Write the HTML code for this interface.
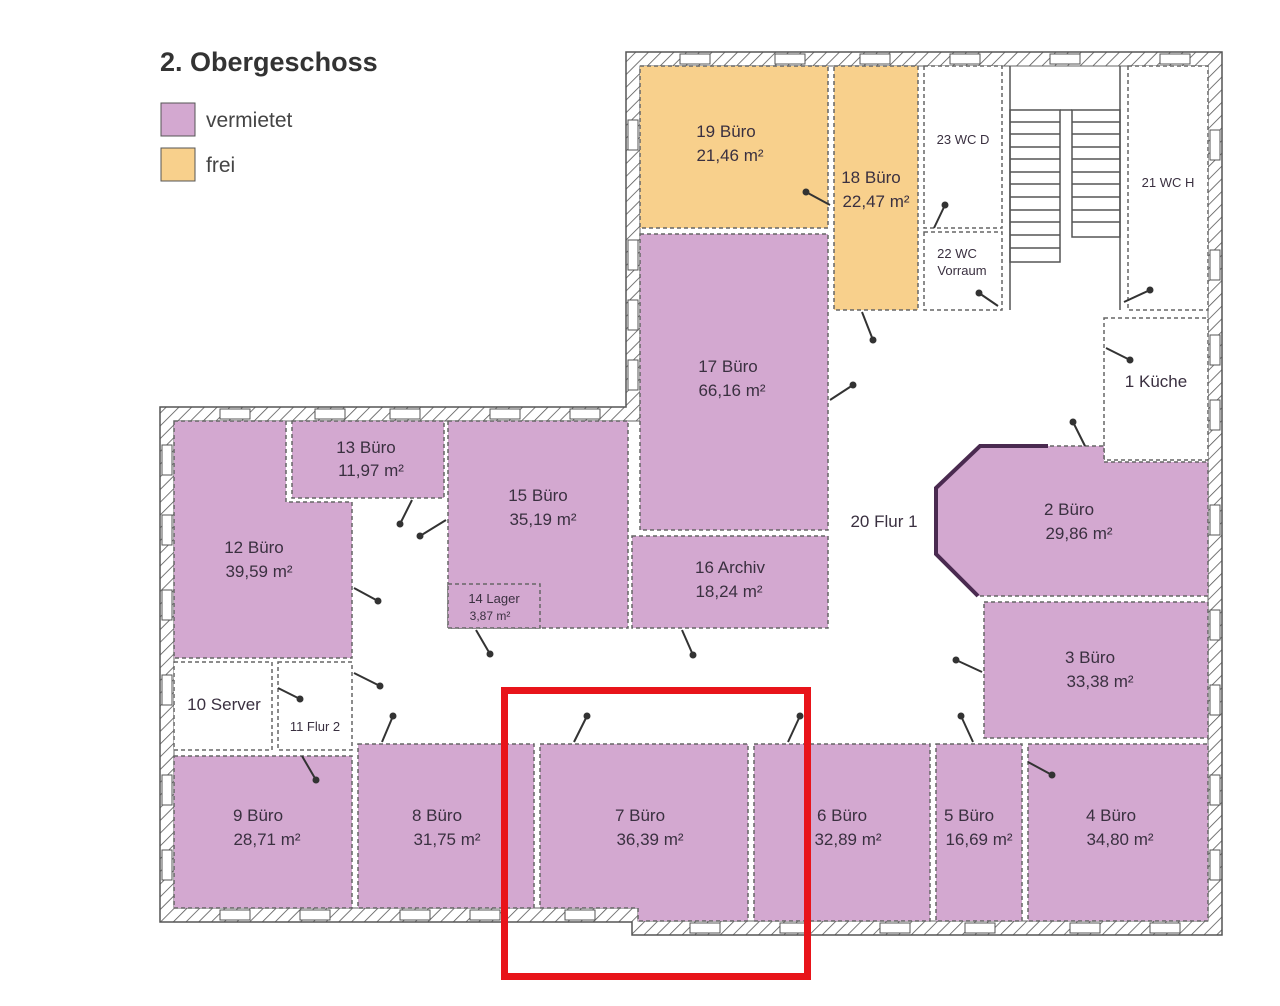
<!DOCTYPE html>
<html><head><meta charset="utf-8"><style>
html,body{margin:0;padding:0;background:#fff;}
svg{display:block;font-family:"Liberation Sans",sans-serif;}
text{fill:#3a3040;}
</style></head><body>
<svg width="1280" height="1006" viewBox="0 0 1280 1006" xmlns="http://www.w3.org/2000/svg">
<defs>
<pattern id="h" width="9" height="9" patternUnits="userSpaceOnUse" patternTransform="rotate(45)">
<rect width="9" height="9" fill="#fff"/><line x1="0" y1="0" x2="0" y2="9" stroke="#555" stroke-width="1.6"/>
</pattern>
</defs>
<text x="160" y="71" font-size="27" font-weight="bold" style="fill:#333">2. Obergeschoss</text>
<rect x="161" y="103" width="34" height="33" fill="#d3a8d0" stroke="#555"/>
<text x="206" y="127" font-size="21" style="fill:#444">vermietet</text>
<rect x="161" y="148" width="34" height="33" fill="#f8d08c" stroke="#555"/>
<text x="206" y="172" font-size="21" style="fill:#444">frei</text>

<path d="M626,52 H1222 V935 H632 V922 H160 V407 H626 Z" fill="url(#h)" stroke="#555" stroke-width="1.5"/>
<path d="M640,66 H1208 V921 H638 V908 H174 V421 H640 Z" fill="#fff" stroke="#666" stroke-width="1"/>

<g stroke="#666" stroke-width="1.5" stroke-dasharray="4 3">
<rect x="640" y="66" width="188" height="162" fill="#f8d08c"/>
<rect x="834" y="66" width="84" height="244" fill="#f8d08c"/>
<rect x="924" y="66" width="78" height="162" fill="#fff"/>
<rect x="924" y="232" width="78" height="78" fill="#fff"/>
<rect x="1128" y="66" width="80" height="244" fill="#fff"/>
<rect x="640" y="234" width="188" height="296" fill="#d3a8d0"/>
<rect x="632" y="536" width="196" height="92" fill="#d3a8d0"/>
<rect x="448" y="421" width="180" height="207" fill="#d3a8d0"/>
<rect x="448" y="584" width="92" height="44" fill="#d3a8d0"/>
<rect x="292" y="421" width="152" height="77" fill="#d3a8d0"/>
<path d="M174,421 H286 V502 H352 V658 H174 Z" fill="#d3a8d0"/>
<rect x="174" y="662" width="98" height="88" fill="#fff"/>
<rect x="278" y="662" width="74" height="88" fill="#fff"/>
<rect x="174" y="756" width="178" height="152" fill="#d3a8d0"/>
<rect x="358" y="744" width="176" height="164" fill="#d3a8d0"/>
<path d="M540,744 H748 V921 H638 V908 H540 Z" fill="#d3a8d0"/>
<rect x="754" y="744" width="176" height="177" fill="#d3a8d0"/>
<rect x="936" y="744" width="86" height="177" fill="#d3a8d0"/>
<rect x="1028" y="744" width="180" height="177" fill="#d3a8d0"/>
<rect x="984" y="602" width="224" height="136" fill="#d3a8d0"/>
<rect x="1104" y="318" width="104" height="142" fill="#fff"/>
<path d="M980,446 H1104 V462 H1208 V596 H978 L936,554 V488 Z" fill="#d3a8d0"/>
</g>
<path d="M1048,446 H980 L936,488 V554 L978,596" fill="none" stroke="#4a2a50" stroke-width="4"/>

<g stroke="#555" stroke-width="1.5" fill="none">
<rect x="1010" y="110" width="50" height="152"/>
<rect x="1072" y="110" width="48" height="127"/>
<line x1="1060" y1="110" x2="1072" y2="110"/>
<path d="M1010,122H1060M1010,134H1060M1010,147H1060M1010,159H1060M1010,172H1060M1010,184H1060M1010,197H1060M1010,210H1060M1010,222H1060M1010,235H1060M1010,248H1060"/>
<path d="M1072,122H1120M1072,134H1120M1072,147H1120M1072,159H1120M1072,172H1120M1072,184H1120M1072,197H1120M1072,210H1120M1072,222H1120"/>
<line x1="1010" y1="66" x2="1010" y2="310"/><line x1="1120" y1="66" x2="1120" y2="310"/>
</g>

<g fill="#fff" stroke="#555" stroke-width="1">
<rect x="680" y="54" width="30" height="10"/><rect x="775" y="54" width="30" height="10"/><rect x="860" y="54" width="30" height="10"/><rect x="950" y="54" width="30" height="10"/><rect x="1050" y="54" width="30" height="10"/><rect x="1160" y="54" width="30" height="10"/>
<rect x="628" y="120" width="10" height="30"/><rect x="628" y="240" width="10" height="30"/><rect x="628" y="300" width="10" height="30"/><rect x="628" y="360" width="10" height="30"/>
<rect x="220" y="409" width="30" height="10"/><rect x="315" y="409" width="30" height="10"/><rect x="390" y="409" width="30" height="10"/><rect x="490" y="409" width="30" height="10"/><rect x="570" y="409" width="30" height="10"/>
<rect x="162" y="445" width="10" height="30"/><rect x="162" y="515" width="10" height="30"/><rect x="162" y="590" width="10" height="30"/><rect x="162" y="675" width="10" height="30"/><rect x="162" y="775" width="10" height="30"/><rect x="162" y="850" width="10" height="30"/>
<rect x="220" y="910" width="30" height="10"/><rect x="300" y="910" width="30" height="10"/><rect x="400" y="910" width="30" height="10"/><rect x="470" y="910" width="30" height="10"/><rect x="565" y="910" width="30" height="10"/>
<rect x="690" y="923" width="30" height="10"/><rect x="780" y="923" width="30" height="10"/><rect x="880" y="923" width="30" height="10"/><rect x="965" y="923" width="30" height="10"/><rect x="1070" y="923" width="30" height="10"/><rect x="1150" y="923" width="30" height="10"/>
<rect x="1210" y="130" width="10" height="30"/><rect x="1210" y="250" width="10" height="30"/><rect x="1210" y="335" width="10" height="30"/><rect x="1210" y="400" width="10" height="30"/><rect x="1210" y="505" width="10" height="30"/><rect x="1210" y="610" width="10" height="30"/><rect x="1210" y="685" width="10" height="30"/><rect x="1210" y="775" width="10" height="30"/><rect x="1210" y="850" width="10" height="30"/>
</g>

<g stroke="#333" stroke-width="2" fill="#333">
<line x1="830" y1="205" x2="806" y2="192"/><circle cx="806" cy="192" r="2.5"/>
<line x1="934" y1="228" x2="945" y2="205"/><circle cx="945" cy="205" r="2.5"/>
<line x1="998" y1="306" x2="979" y2="293"/><circle cx="979" cy="293" r="2.5"/>
<line x1="1124" y1="302" x2="1150" y2="290"/><circle cx="1150" cy="290" r="2.5"/>
<line x1="862" y1="312" x2="873" y2="340"/><circle cx="873" cy="340" r="2.5"/>
<line x1="830" y1="400" x2="853" y2="385"/><circle cx="853" cy="385" r="2.5"/>
<line x1="1106" y1="348" x2="1130" y2="360"/><circle cx="1130" cy="360" r="2.5"/>
<line x1="1085" y1="446" x2="1073" y2="422"/><circle cx="1073" cy="422" r="2.5"/>
<line x1="412" y1="500" x2="400" y2="524"/><circle cx="400" cy="524" r="2.5"/>
<line x1="446" y1="520" x2="420" y2="536"/><circle cx="420" cy="536" r="2.5"/>
<line x1="354" y1="588" x2="378" y2="601"/><circle cx="378" cy="601" r="2.5"/>
<line x1="476" y1="630" x2="490" y2="654"/><circle cx="490" cy="654" r="2.5"/>
<line x1="682" y1="630" x2="693" y2="655"/><circle cx="693" cy="655" r="2.5"/>
<line x1="354" y1="673" x2="380" y2="686"/><circle cx="380" cy="686" r="2.5"/>
<line x1="278" y1="688" x2="300" y2="699"/><circle cx="300" cy="699" r="2.5"/>
<line x1="382" y1="742" x2="393" y2="716"/><circle cx="393" cy="716" r="2.5"/>
<line x1="302" y1="756" x2="316" y2="780"/><circle cx="316" cy="780" r="2.5"/>
<line x1="574" y1="742" x2="587" y2="716"/><circle cx="587" cy="716" r="2.5"/>
<line x1="788" y1="742" x2="800" y2="716"/><circle cx="800" cy="716" r="2.5"/>
<line x1="973" y1="742" x2="961" y2="716"/><circle cx="961" cy="716" r="2.5"/>
<line x1="982" y1="672" x2="956" y2="660"/><circle cx="956" cy="660" r="2.5"/>
<line x1="1028" y1="762" x2="1052" y2="775"/><circle cx="1052" cy="775" r="2.5"/>
</g>

<g font-size="17" text-anchor="middle">
<text x="726" y="137">19 Büro</text><text x="730" y="161">21,46 m²</text>
<text x="871" y="183">18 Büro</text><text x="876" y="207">22,47 m²</text>
<text x="963" y="144" font-size="13">23 WC D</text>
<text x="957" y="258" font-size="13">22 WC</text><text x="962" y="275" font-size="13">Vorraum</text>
<text x="1168" y="187" font-size="13">21 WC H</text>
<text x="728" y="372">17 Büro</text><text x="732" y="396">66,16 m²</text>
<text x="1156" y="387">1 Küche</text>
<text x="366" y="453">13 Büro</text><text x="371" y="476">11,97 m²</text>
<text x="538" y="501">15 Büro</text><text x="543" y="525">35,19 m²</text>
<text x="884" y="527">20 Flur 1</text>
<text x="1069" y="515">2 Büro</text><text x="1079" y="539">29,86 m²</text>
<text x="254" y="553">12 Büro</text><text x="259" y="577">39,59 m²</text>
<text x="730" y="573">16 Archiv</text><text x="729" y="597">18,24 m²</text>
<text x="494" y="603" font-size="13">14 Lager</text><text x="490" y="620" font-size="12">3,87 m²</text>
<text x="1090" y="663">3 Büro</text><text x="1100" y="687">33,38 m²</text>
<text x="224" y="710">10 Server</text>
<text x="315" y="731" font-size="13">11 Flur 2</text>
<text x="258" y="821">9 Büro</text><text x="267" y="845">28,71 m²</text>
<text x="437" y="821">8 Büro</text><text x="447" y="845">31,75 m²</text>
<text x="640" y="821">7 Büro</text><text x="650" y="845">36,39 m²</text>
<text x="842" y="821">6 Büro</text><text x="848" y="845">32,89 m²</text>
<text x="969" y="821">5 Büro</text><text x="979" y="845">16,69 m²</text>
<text x="1111" y="821">4 Büro</text><text x="1120" y="845">34,80 m²</text>
</g>

<rect x="504.5" y="690.5" width="303" height="286" fill="none" stroke="#e8141a" stroke-width="7"/>
</svg>
</body></html>
